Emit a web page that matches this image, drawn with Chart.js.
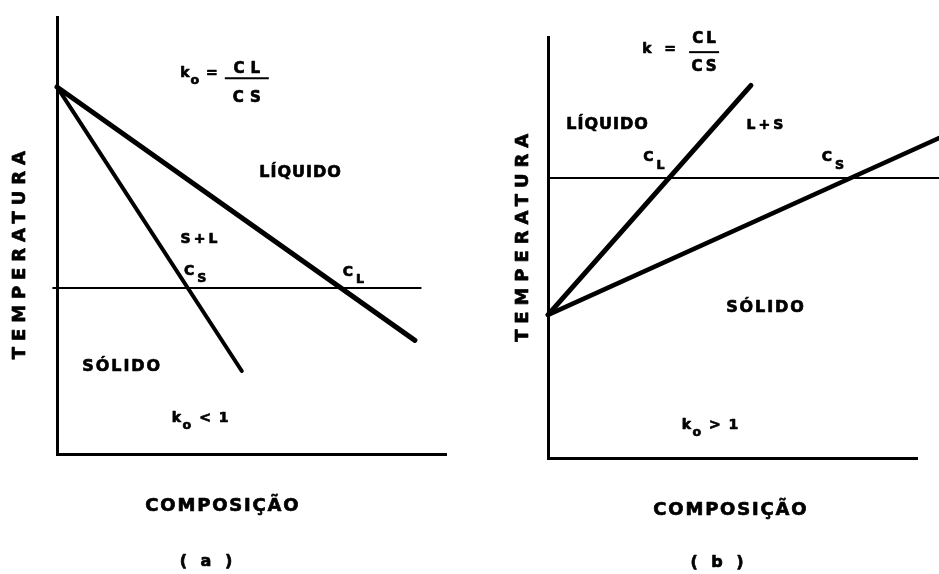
<!DOCTYPE html>
<html lang="pt">
<head>
<meta charset="utf-8">
<title>Coeficiente de distribuição k0</title>
<script src="https://cdn.jsdelivr.net/npm/chart.js@4.4.1/dist/chart.umd.min.js"></script>
<style>
  html, body { margin: 0; padding: 0; background: #fff; }
  #wrap { position: relative; width: 939px; height: 574px; overflow: hidden; }
  canvas { position: absolute; top: 0; }
  #chart-a { left: 0; }
  #chart-b { left: 470px; }
</style>
</head>
<body>
<div id="wrap">
  <canvas id="chart-a" width="470" height="574"></canvas>
  <canvas id="chart-b" width="469" height="574"></canvas>
</div>
<script>
/* ── Diagram (a): k0 < 1 — composition (x) vs temperature (y), 0..100 ── */
const liqA_comp = [0, 92];
const liqA_temp = [84, 26];
const solA_comp = [0, 47.5];
const solA_temp = [84, 19];
const tieA_comp = [-1, 93.5];
const tieA_temp = [38, 38];

/* ── Diagram (b): k0 > 1 ── */
const liqB_comp = [0, 55];
const liqB_temp = [34, 88.5];
const solB_comp = [0, 106];
const solB_temp = [34, 76];
const tieB_comp = [0, 106];
const tieB_temp = [66.5, 66.5];

const FONT = '"DejaVu Sans", "Liberation Sans", sans-serif';
const INK = '#000';
const SUB_SCALE = 0.9;

/* ── Text annotations (data coordinates) ── */
const labelsA = [
  { x: 36.5, y: 87.2, size: 14, spacing: 1, parts: ['k', { t: 'o', sub: true }, ' ='] },
  { x: 48.8, y: 86.0, size: 15, spacing: 6, frac: ['CL', 'CS'], up: 9.5, down: 19.5, width: 44 },
  { x: 62.5, y: 64.3, size: 16, spacing: 1, parts: ['LÍQUIDO'] },
  { x: 36.5, y: 49.2, size: 14, spacing: 3, parts: ['S+L'] },
  { x: 35.5, y: 41.9, size: 14, spacing: 3, parts: ['C', { t: 'S', sub: true }] },
  { x: 76.2, y: 41.6, size: 14, spacing: 3, parts: ['C', { t: 'L', sub: true }] },
  { x: 16.5, y: 19.9, size: 16, spacing: 1.9, parts: ['SÓLIDO'] },
  { x: 36.8, y: 8.2, size: 14, spacing: 1.5, parts: ['k', { t: 'o', sub: true }, ' <', ' 1'] },
  { x: 42.4, y: -11.9, size: 18, spacing: 1.8, parts: ['COMPOSIÇÃO'] },
  { x: 38.3, y: -24.7, size: 16, spacing: 4, parts: ['( a )'] },
  { x: -9.5, y: 45.5, size: 18, spacing: 5.9, rotate: -90, parts: ['TEMPERATURA'] },
];

const labelsB = [
  { x: 30.1, y: 97.1, size: 14, spacing: 1, parts: ['k', '  ='] },
  { x: 42.3, y: 96.4, size: 15, spacing: 3, frac: ['CL', 'CS'], up: 13, down: 15, width: 30 },
  { x: 16.0, y: 79.1, size: 16, spacing: 1, parts: ['LÍQUIDO'] },
  { x: 58.8, y: 79.1, size: 14, spacing: 3, parts: ['L+S'] },
  { x: 28.7, y: 71.3, size: 14, spacing: 3, parts: ['C', { t: 'L', sub: true }] },
  { x: 77.2, y: 71.3, size: 14, spacing: 3, parts: ['C', { t: 'S', sub: true }] },
  { x: 58.8, y: 35.6, size: 16, spacing: 1.9, parts: ['SÓLIDO'] },
  { x: 43.9, y: 7.8, size: 14, spacing: 1.5, parts: ['k', { t: 'o', sub: true }, ' >', ' 1'] },
  { x: 49.3, y: -12.4, size: 18, spacing: 1.8, parts: ['COMPOSIÇÃO'] },
  { x: 45.8, y: -24.9, size: 16, spacing: 4, parts: ['( b )'] },
  { x: -6.8, y: 52.3, size: 18, spacing: 5.9, rotate: -90, parts: ['TEMPERATURA'] },
];

/* ── Text helpers ── */
const fontFor = (size) => `bold ${size}px ${FONT}`;

// fill plus a thin stroke so the lettering reads as heavy as stencil ink
function inkText(ctx, text, x, y) {
  ctx.fillText(text, x, y);
  ctx.strokeText(text, x, y);
}

function drawRich(ctx, cx, cy, item) {
  const sp = item.spacing || 0;
  const parts = item.parts.map(p => (typeof p === 'string' ? { t: p } : p));
  ctx.save();
  ctx.translate(cx, cy);
  if (item.rotate) ctx.rotate(item.rotate * Math.PI / 180);
  ctx.letterSpacing = sp + 'px';
  ctx.textAlign = 'left';
  let total = 0;
  const widths = parts.map(p => {
    ctx.font = fontFor(item.size * (p.sub ? SUB_SCALE : 1));
    const w = ctx.measureText(p.t).width;
    total += w;
    return w;
  });
  total -= sp; // trailing spacing after the last glyph
  let xx = -total / 2;
  parts.forEach((p, i) => {
    ctx.font = fontFor(item.size * (p.sub ? SUB_SCALE : 1));
    inkText(ctx, p.t, xx, p.sub ? item.size * 0.55 : 0);
    xx += widths[i];
  });
  ctx.restore();
}

function drawFraction(ctx, cx, cy, item) {
  const sp = item.spacing || 0;
  ctx.save();
  ctx.font = fontFor(item.size);
  ctx.letterSpacing = sp + 'px';
  ctx.textAlign = 'center';
  inkText(ctx, item.frac[0], cx + sp / 2, cy - item.up);
  inkText(ctx, item.frac[1], cx + sp / 2, cy + item.down);
  ctx.lineWidth = 2;
  ctx.beginPath();
  ctx.moveTo(cx - item.width / 2, cy);
  ctx.lineTo(cx + item.width / 2, cy);
  ctx.stroke();
  ctx.restore();
}

const phaseLabels = {
  id: 'phaseLabels',
  afterDraw(chart, args, opts) {
    const { ctx, scales: { x, y } } = chart;
    ctx.save();
    ctx.fillStyle = INK;
    ctx.strokeStyle = INK;
    ctx.lineWidth = 0.7;
    ctx.lineJoin = 'round';
    ctx.textBaseline = 'middle';
    for (const item of opts.items) {
      const px = x.getPixelForValue(item.x);
      const py = y.getPixelForValue(item.y);
      if (item.frac) drawFraction(ctx, px, py, item);
      else drawRich(ctx, px, py, item);
    }
    ctx.restore();
  },
};

/* ── Chart factory ── */
function line(comp, temp, width) {
  return {
    data: comp.map((c, i) => ({ x: c, y: temp[i] })),
    showLine: true,
    borderColor: INK,
    borderWidth: width,
    borderCapStyle: 'round',
    pointRadius: 0,
    tension: 0,
    clip: false,
  };
}

const axis = () => ({
  type: 'linear',
  min: 0,
  max: 100,
  ticks: { display: false },
  grid: { display: false, drawTicks: false },
  border: { display: true, color: INK, width: 3 },
});

function makeChart(id, datasets, items, padding) {
  return new Chart(document.getElementById(id), {
    type: 'scatter',
    data: { datasets },
    options: {
      responsive: false,
      animation: false,
      events: [],
      layout: { padding },
      scales: { x: axis(), y: axis() },
      plugins: {
        legend: { display: false },
        tooltip: { enabled: false },
        phaseLabels: { items },
      },
    },
    plugins: [phaseLabels],
  });
}

makeChart('chart-a', [
  line(liqA_comp, liqA_temp, 5),
  line(solA_comp, solA_temp, 4),
  line(tieA_comp, tieA_temp, 2),
], labelsA, { left: 57, top: 17, right: 24, bottom: 120 });

makeChart('chart-b', [
  line(liqB_comp, liqB_temp, 5),
  line(solB_comp, solB_temp, 4.5),
  line(tieB_comp, tieB_temp, 2),
], labelsB, { left: 78, top: 37, right: 22, bottom: 116 });
</script>
</body>
</html>
